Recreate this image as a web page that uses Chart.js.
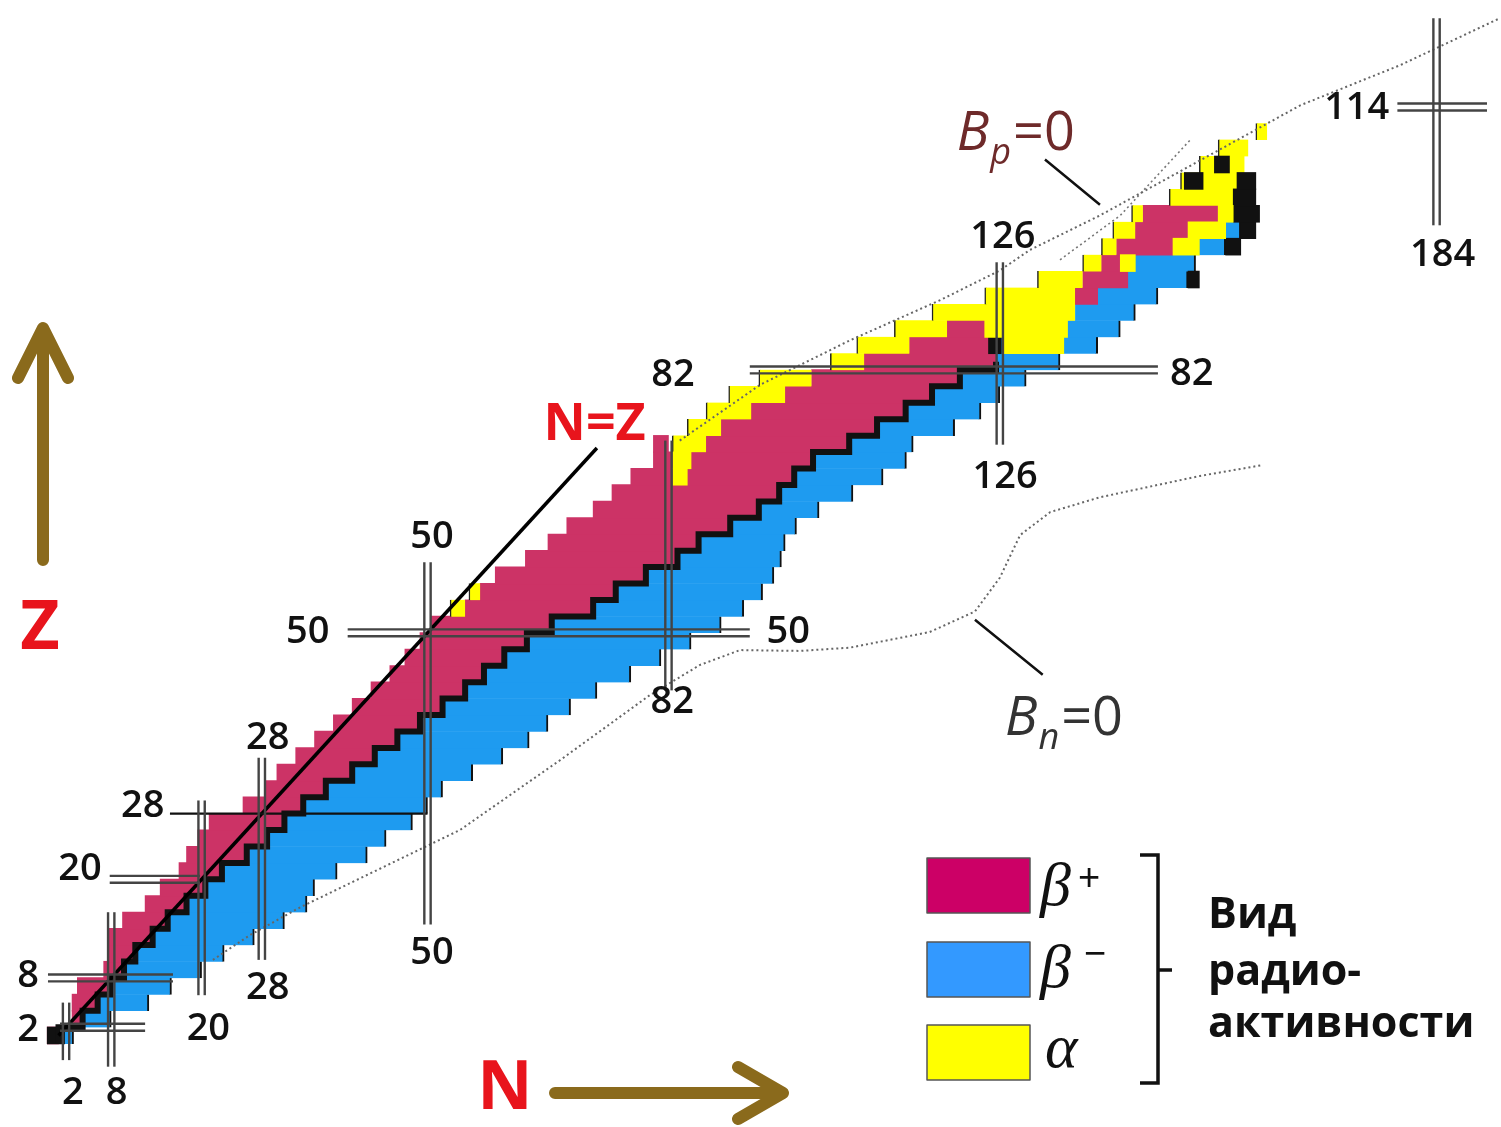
<!DOCTYPE html>
<html lang="ru">
<head>
<meta charset="utf-8">
<title>Карта нуклидов N–Z</title>
<script src="https://cdn.jsdelivr.net/npm/chart.js@4.4.1/dist/chart.umd.min.js"></script>
<style>
  html, body { margin: 0; padding: 0; background: #fff; }
  #wrap { width: 1501px; height: 1127px; }
</style>
</head>
<body>
<div id="wrap"><canvas id="grafico" width="1501" height="1127"></canvas></div>
<script>
// Rows of the chart: each row is centred on Z and covers Z-1 .. Z+1
const zRows = [1, 3, 5, 7, 9, 11, 13, 15, 17, 19, 21, 23, 25, 27, 29, 31, 33, 35, 37, 39,
  41, 43, 45, 47, 49, 51, 53, 55, 57, 59, 61, 63, 65, 67, 69, 71, 73, 75, 77, 79,
  81, 83, 85, 87, 89, 91, 93, 95, 97, 99, 101, 103, 105, 107, 109, 111];

// Boundaries along N for every row
const protonEdge = [-0.5, 2.8, 2.8, 3.5, 7, 7.6, 7.6, 9.5, 12.5, 14.5, 17, 18, 19.5, 21, 25.5, 28.5, 30, 32.5, 35, 37.5,
  40, 42.5, 45, 47, 49, 50.5, 53, 55.5, 59, 63, 66, 68.5, 72, 74.5, 77, 80, 82.5, 84.5, 87, 90,
  94, 103.5, 107, 112, 117, 124, 131, 137, 139.5, 141, 143.5, 148.5, 150, 152.5, 155, 160];
const alphaEnd = [-0.5, 2.8, 2.8, 3.5, 7, 7.6, 7.6, 9.5, 12.5, 14.5, 17, 18, 19.5, 21, 25.5, 28.5, 30, 32.5, 35, 37.5,
  40, 42.5, 45, 47, 49, 50.5, 55, 57, 59, 63, 66, 68.5, 72, 74.5, 77, 80, 87, 89, 93, 97.5,
  101, 108, 114, 119, 136, 136, 137, 139.5, 141.5, 144, 145, 157, 157.5, 158.5, 159, 161.5];
// border between beta+ and beta- (valley of stability)
const valleyN = [1, 4.2, 6.2, 7.9, 9.7, 11.2, 13.5, 15.5, 18, 20.5, 22.7, 26, 28.7, 31, 33.5, 36.5, 40, 43, 46, 49,
  52, 55, 57.5, 60.2, 63.2, 66.5, 72, 75, 79, 83.2, 86, 90.2, 94, 96.7, 98.7, 101.2, 106, 109.7, 113.5, 117,
  120.7, 125.5, 125.5, 124, 136, 139, 143, 142, 149, 151, 155, 157, 157.5, 158.5, 159, 161.5];
const neutronEdge = [3, 8, 13, 16, 20, 23, 27, 31, 34, 35, 38, 42, 44.5, 48, 50, 52, 56, 60, 63.5, 66,
  69, 72.5, 77, 81, 85, 89, 92, 94.5, 96, 97, 97.5, 99, 102, 106.5, 110.5, 113.6, 114.5, 120, 123.5, 126,
  129.5, 134, 139, 142, 144, 147, 151, 152, 156, 158, 155, 157, 157.5, 158.5, 159, 161.5];

// Irregular pieces drawn over the main rows: [Z, N from, N to]
const extraAlpha = [[69, 82.6, 84.5], [71, 82.6, 85], [85, 126.5, 134.5], [87, 124, 135],
  [95, 142, 144], [97, 149, 152.5], [99, 151, 156], [101, 155, 157]];
const extraBetaPlus = [[73, 80, 82]];
const extraStable = [[1, -0.5, 1.8], [85, 124.5, 126.2], [93, 151, 152.5], [97, 156, 158], [99, 158, 160], [101, 157, 160.5],
  [103, 157, 160], [105, 157.5, 160], [105, 150.5, 153], [107, 154.5, 156.5]];

// Magic numbers: vertical lines N = const, horizontal lines Z = const
const magicN = [2, 8, 20, 28, 50, 82, 126, 184];
const magicNZFrom = [-2, -2.8, 5.9, 10.2, 14.5, 43, 72.9, 99.6];
const magicNZTo = [5, 16, 29.6, 34.8, 58.6, 73.4, 95.1, 124.8];
const magicZ = [2, 8, 20, 28, 50, 82, 114];
const magicZNFrom = [1.2, -0.4, 7.8, 15.8, 39.4, 92.8, 178.8];
const magicZNTo = [12.5, 16.2, 19.8, 50, 92.8, 147, 190.7];

// Drip lines (dotted)
const bnLineN = [21.5, 26.4, 33.1, 54.3, 67.6, 79.5, 86.2, 91.5, 99.5, 106.1, 116.7, 122.7, 126, 128.7, 132.7, 139.3, 152.6, 160.8];
const bnLineZ = [10.2, 13.2, 16.6, 26, 34.5, 42.4, 46.1, 47.9, 47.8, 48.2, 50.1, 52.6, 56.7, 61.9, 64.7, 66.5, 69.1, 70.4];
const bpLineN = [83.5, 94.2, 106.1, 118.1, 126, 130, 139.3, 152.6, 165.9, 179.2, 192.4];
const bpLineZ = [73.4, 80.2, 85.6, 90.5, 94.1, 96.6, 100.8, 107.5, 114.2, 119.1, 124.8];
const bpLine2N = [134, 142, 151.3];
const bpLine2Z = [95.4, 100.8, 110];

// Axis window (chart area = whole canvas)
const nMin = -6.77, nMax = 192.56, zMin = -10.14, zMax = 127.02;
const canvasH = 1127;
const rowThickness = 2 * canvasH / (zMax - zMin) + 0.5;

const colAlpha = '#ffff00';
const colBetaPlus = '#cc3366';
const colBetaMinus = '#1e9bf0';
const colStable = '#111111';

function rowSegments(from, to) {
    const out = [];
    zRows.forEach((z, i) => {
        if (to[i] - from[i] > 0.01) out.push({ x: [from[i], to[i]], y: z });
    });
    return out;
}

function listSegments(list) {
    return list.map(([z, a, b]) => ({ x: [a, b], y: z }));
}

function barSet(data, color, order, extra) {
    return Object.assign({
        type: 'bar',
        data: data,
        indexAxis: 'y',
        backgroundColor: color,
        borderWidth: 0,
        barThickness: rowThickness,
        grouped: false,
        order: order
    }, extra || {});
}

function lineSet(points, color, width, dash) {
    return {
        type: 'line',
        data: points,
        borderColor: color,
        borderWidth: width,
        borderDash: dash || [],
        pointRadius: 0,
        fill: false,
        tension: 0,
        order: 0
    };
}

function zip(ns, zs) {
    return ns.map((n, i) => ({ x: n, y: zs[i] }));
}

const datasets = [];

// Main rows
datasets.push(barSet(rowSegments(protonEdge, alphaEnd), colAlpha, 5,
    { borderColor: '#222', borderWidth: { left: 1.5, right: 0, top: 0, bottom: 0 }, borderSkipped: false }));
datasets.push(barSet(rowSegments(alphaEnd, valleyN), colBetaPlus, 5));
datasets.push(barSet(rowSegments(valleyN, neutronEdge), colBetaMinus, 5,
    { borderColor: '#111', borderWidth: { left: 0, right: 2, top: 0, bottom: 0 }, borderSkipped: false }));

// Overlays
datasets.push(barSet(listSegments(extraAlpha), colAlpha, 4));
datasets.push(barSet(listSegments(extraBetaPlus), colBetaPlus, 4));
datasets.push(barSet(listSegments(extraStable), colStable, 4));

// Stable nuclei: black staircase on the beta+/beta- border (rows up to Z = 82)
const stablePoints = [];
zRows.forEach((z, i) => {
    if (z <= 81) stablePoints.push({ x: valleyN[i], y: z - 1 });
});
stablePoints.push({ x: 125.5, y: 82 });
stablePoints.push({ x: 125.5, y: 83 });
datasets.push(Object.assign(lineSet(stablePoints, colStable, 6),
    { order: 3, stepped: 'after', borderJoinStyle: 'miter' }));

// Magic number lines (double, except Z = 28)
magicN.forEach((n, i) => {
    [-0.42, 0.42].forEach(d => {
        datasets.push(lineSet([{ x: n + d, y: magicNZFrom[i] }, { x: n + d, y: magicNZTo[i] }], '#444', 2.4));
    });
});
magicZ.forEach((z, i) => {
    const offs = z === 28 ? [0] : [-0.42, 0.42];
    offs.forEach(d => {
        datasets.push(lineSet([{ x: magicZNFrom[i], y: z + d }, { x: magicZNTo[i], y: z + d }], z === 28 ? '#111' : '#444', 2.4));
    });
});

// N = Z line
datasets.push(lineSet([{ x: 1, y: 1 }, { x: 72.5, y: 72.5 }], '#000', 3.5));

// Drip lines
datasets.push(lineSet(zip(bnLineN, bnLineZ), '#666', 2, [2, 3]));
datasets.push(lineSet(zip(bpLineN, bpLineZ), '#666', 2, [2, 3]));
datasets.push(lineSet(zip(bpLine2N, bpLine2Z), '#777', 1.6, [2, 3]));

// Texts, arrows and legend
const decorPlugin = {
    id: 'decor',
    afterDraw(chart) {
        const ctx = chart.ctx;
        const sx = chart.scales.x, sy = chart.scales.y;
        const px = n => sx.getPixelForValue(n);
        const py = z => sy.getPixelForValue(z);

        ctx.save();

        // magic number labels  [text, N, Z]
        const tickSpots = [
            ['2', -3.05, 1.7], ['8', -3.05, 8.2], ['20', 3.85, 21.2], ['28', 12.2, 28.9], ['50', 34.1, 50.1],
            ['2', 2.9, -6.0], ['8', 8.7, -6.0], ['20', 20.9, 1.8], ['28', 28.8, 6.8], ['50', 50.6, 11.0],
            ['28', 28.8, 37.2], ['50', 50.6, 61.7], ['82', 82.6, 81.4], ['82', 82.5, 41.6], ['50', 97.9, 50.1],
            ['126', 126.4, 98.2], ['126', 126.7, 69.0], ['82', 151.5, 81.5], ['114', 173.4, 113.9], ['184', 184.8, 96.0]
        ];
        ctx.fillStyle = '#111';
        ctx.font = '600 38px "Open Sans"';
        ctx.textAlign = 'center';
        ctx.textBaseline = 'middle';
        tickSpots.forEach(([t, n, z]) => ctx.fillText(t, px(n), py(z)));

        // N=Z label
        ctx.fillStyle = '#e8141c';
        ctx.font = 'bold 52px "Open Sans"';
        ctx.fillText('N=Z', px(72.2), py(75.3));

        // Bp=0 and Bn=0 labels
        ctx.textAlign = 'left';
        ctx.textBaseline = 'alphabetic';
        function bLabel(sub, n, z, color) {
            let x = px(n);
            const y = py(z);
            ctx.fillStyle = color;
            ctx.font = 'italic 54px "Open Sans"';
            ctx.fillText('B', x, y);
            x += ctx.measureText('B').width + 1;
            ctx.font = 'italic 36px "Open Sans"';
            ctx.fillText(sub, x, y + 14);
            x += ctx.measureText(sub).width + 2;
            ctx.font = '54px "Open Sans"';
            ctx.fillText('=0', x, y);
        }
        bLabel('p', 120.3, 108.8, '#6e2a2a');
        bLabel('n', 126.7, 37.6, '#333');

        ctx.strokeStyle = '#111';
        ctx.lineWidth = 2.5;
        ctx.beginPath();
        ctx.moveTo(px(132.0), py(107.6)); ctx.lineTo(px(139.3), py(102.1));
        ctx.moveTo(px(122.7), py(51.6)); ctx.lineTo(px(131.7), py(44.9));
        ctx.stroke();

        // axis arrows
        ctx.strokeStyle = '#8a6a1c';
        ctx.lineWidth = 12;
        ctx.lineCap = 'round';
        ctx.lineJoin = 'round';
        ctx.beginPath();
        ctx.moveTo(43, 560); ctx.lineTo(43, 330);
        ctx.moveTo(18, 378); ctx.lineTo(43, 328); ctx.lineTo(68, 378);
        ctx.moveTo(555, 1093); ctx.lineTo(780, 1093);
        ctx.moveTo(738, 1067); ctx.lineTo(783, 1093); ctx.lineTo(738, 1119);
        ctx.stroke();

        ctx.fillStyle = '#e8141c';
        ctx.font = 'bold 68px "Open Sans"';
        ctx.textAlign = 'center';
        ctx.textBaseline = 'middle';
        ctx.fillText('Z', 40, 630);
        ctx.fillText('N', 505, 1090);

        // legend
        const boxes = [['#cc0066', 858], ['#3399ff', 942], ['#ffff00', 1025]];
        boxes.forEach(([c, y]) => {
            ctx.fillStyle = c;
            ctx.fillRect(927, y, 103, 55);
            ctx.strokeStyle = '#555';
            ctx.lineWidth = 1.5;
            ctx.strokeRect(927, y, 103, 55);
        });
        ctx.fillStyle = '#111';
        ctx.textAlign = 'left';
        ctx.textBaseline = 'alphabetic';
        ctx.font = 'italic 62px "Liberation Serif"';
        ctx.fillText('β', 1040, 905);
        ctx.fillText('β', 1040, 987);
        ctx.fillText('α', 1045, 1067);
        ctx.font = '38px "Liberation Sans"';
        ctx.fillText('+', 1078, 890);
        ctx.fillText('−', 1084, 966);

        ctx.strokeStyle = '#111';
        ctx.lineWidth = 3.5;
        ctx.lineCap = 'butt';
        ctx.lineJoin = 'miter';
        ctx.beginPath();
        ctx.moveTo(1140, 855); ctx.lineTo(1158, 855); ctx.lineTo(1158, 1083); ctx.lineTo(1140, 1083);
        ctx.moveTo(1158, 970); ctx.lineTo(1172, 970);
        ctx.stroke();

        ctx.font = 'bold 43px "Open Sans"';
        ctx.fillText('Вид', 1208, 928);
        ctx.fillText('радио-', 1208, 985);
        ctx.fillText('активности', 1208, 1037);

        ctx.restore();
    }
};

new Chart(document.getElementById('grafico').getContext('2d'), {
    type: 'bar',
    data: { datasets: datasets },
    options: {
        responsive: false,
        animation: false,
        layout: { padding: 0 },
        plugins: { legend: { display: false }, tooltip: { enabled: false } },
        scales: {
            x: { type: 'linear', min: nMin, max: nMax, display: false, offset: false },
            y: { type: 'linear', min: zMin, max: zMax, display: false, offset: false }
        }
    },
    plugins: [decorPlugin]
});
</script>
</body>
</html>
